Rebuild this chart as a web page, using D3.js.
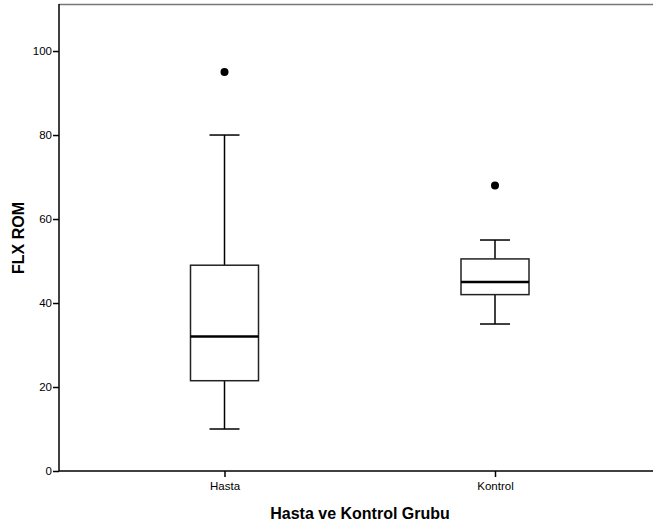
<!DOCTYPE html>
<html>
<head>
<meta charset="utf-8">
<script src="https://cdn.jsdelivr.net/npm/d3@7"></script>
<style>
body { margin: 0; background: #fff; }
text { font-family: Arial, "Liberation Sans", sans-serif; }
</style>
</head>
<body>
<svg id="chart" width="653" height="529"></svg>
<script>
// groups and box statistics
var groups = ["Hasta", "Kontrol"];
var whisker_low = [10, 35];
var q1 = [21.5, 42];
var median = [32, 45];
var q3 = [49, 50.5];
var whisker_high = [80, 55];
var outliers = [[95], [68]];
var y_ticks = [0, 20, 40, 60, 80, 100];

var svg = d3.select("#chart");
var plot_left = 59, plot_top = 4, plot_right = 653, plot_bottom = 471;

var y = d3.scaleLinear().domain([0, 111.2]).range([plot_bottom, plot_top]);
var x = d3.scalePoint().domain(groups).range([224.5, 495]);

var box_w = 68, cap_w = 30;

// top frame line
svg.append("line")
    .attr("x1", plot_left).attr("x2", plot_right)
    .attr("y1", plot_top + 0.5).attr("y2", plot_top + 0.5)
    .attr("stroke", "#777").attr("stroke-width", 1.5);

// y axis
var y_axis = svg.append("g")
    .attr("transform", "translate(" + plot_left + ",0)")
    .call(d3.axisLeft(y).tickValues(y_ticks).tickSize(6).tickSizeOuter(0).tickPadding(1));
y_axis.select(".domain").attr("stroke", "#000").attr("stroke-width", 1.5)
    .attr("d", "M0," + plot_bottom + "V" + plot_top);
y_axis.selectAll(".tick line").attr("stroke", "#000").attr("stroke-width", 1.5);
y_axis.selectAll(".tick text").attr("font-size", 11.5).attr("fill", "#000")
    .attr("font-family", "Arial, 'Liberation Sans', sans-serif");

// x axis
var x_axis = svg.append("g")
    .attr("transform", "translate(0," + plot_bottom + ")")
    .call(d3.axisBottom(x).tickSize(6).tickSizeOuter(0).tickPadding(5));
x_axis.select(".domain").attr("stroke", "#000").attr("stroke-width", 1.5)
    .attr("d", "M" + plot_left + ",0H" + plot_right);
x_axis.selectAll(".tick line").attr("stroke", "#000").attr("stroke-width", 1.5);
x_axis.selectAll(".tick text").attr("font-size", 11.5).attr("fill", "#000")
    .attr("font-family", "Arial, 'Liberation Sans', sans-serif");

// boxes
var g = svg.append("g");
groups.forEach(function(name, i)
{
    var cx = x(name);

    g.append("line")
        .attr("x1", cx).attr("x2", cx)
        .attr("y1", y(whisker_high[i])).attr("y2", y(q3[i]))
        .attr("stroke", "#000").attr("stroke-width", 1.5);
    g.append("line")
        .attr("x1", cx).attr("x2", cx)
        .attr("y1", y(q1[i])).attr("y2", y(whisker_low[i]))
        .attr("stroke", "#000").attr("stroke-width", 1.5);

    g.append("line")
        .attr("x1", cx - cap_w / 2).attr("x2", cx + cap_w / 2)
        .attr("y1", y(whisker_high[i])).attr("y2", y(whisker_high[i]))
        .attr("stroke", "#000").attr("stroke-width", 1.5);
    g.append("line")
        .attr("x1", cx - cap_w / 2).attr("x2", cx + cap_w / 2)
        .attr("y1", y(whisker_low[i])).attr("y2", y(whisker_low[i]))
        .attr("stroke", "#000").attr("stroke-width", 1.5);

    g.append("rect")
        .attr("x", cx - box_w / 2).attr("width", box_w)
        .attr("y", y(q3[i])).attr("height", y(q1[i]) - y(q3[i]))
        .attr("fill", "#fff").attr("stroke", "#222").attr("stroke-width", 1.5);

    g.append("line")
        .attr("x1", cx - box_w / 2).attr("x2", cx + box_w / 2)
        .attr("y1", y(median[i])).attr("y2", y(median[i]))
        .attr("stroke", "#000").attr("stroke-width", 2.5);

    outliers[i].forEach(function(v)
    {
        g.append("circle")
            .attr("cx", cx).attr("cy", y(v)).attr("r", 4)
            .attr("fill", "#000");
    });
});

// axis titles
svg.append("text")
    .attr("x", 360).attr("y", 519)
    .attr("text-anchor", "middle")
    .attr("font-size", 16).attr("font-weight", "bold")
    .text("Hasta ve Kontrol Grubu");

svg.append("text")
    .attr("transform", "translate(24,238) rotate(-90)")
    .attr("text-anchor", "middle")
    .attr("font-size", 16).attr("font-weight", "bold")
    .text("FLX ROM");
</script>
</body>
</html>
